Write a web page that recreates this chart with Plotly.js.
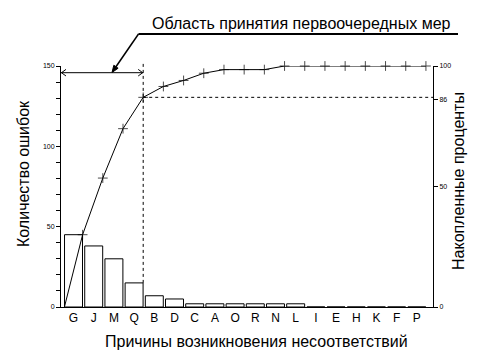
<!DOCTYPE html>
<html>
<head>
<meta charset="utf-8">
<script src="https://cdn.plot.ly/plotly-3.0.1.min.js"></script>
<style>html,body{margin:0;padding:0;background:#fff;}#chart{width:481px;height:362px;}</style>
</head>
<body>
<div id="chart"></div>
<script>
const categories = ['G','J','M','Q','B','D','C','A','O','R','N','L','I','E','H','K','F','P'];
const errorCounts = [45, 38, 30, 15, 7, 5, 2, 2, 2, 2, 2, 2, 0, 0, 0, 0, 0, 0];
const cumulativePct = [30, 53.5, 74, 87, 91.5, 94, 97, 98.5, 98.5, 98.5, 100, 100, 100, 100, 100, 100, 100, 100];
const leftTickLabels = ['0', '50', '100', '150'];
const rightTickValues = [0, 50, 86, 100];
const rightTickLabels = ['0', '50', '86', '100'];
const priorityCount = 4;
const titleText = 'Область принятия первоочередных мер';
const xTitle = 'Причины возникновения несоответствий';
const yTitle = 'Количество ошибок';
const y2Title = 'Накопленные проценты';

const W = 481, H = 362;
const M = {l: 61, r: 48, t: 66, b: 55};
const plotW = W - M.l - M.r, plotH = H - M.t - M.b;
const xRange = [-0.62, 17.8];
const yMax = 150, y2Max = 100;
const half = 0.45;

const px = x => (x - M.l) / plotW;
const py = y => (H - M.b - y) / plotH;
const dataToPx = x => M.l + (x - xRange[0]) / (xRange[1] - xRange[0]) * plotW;

const idx = categories.map((_, i) => i);
const lineX = [-half].concat(idx.map(i => i + half));
const lineY = [0].concat(cumulativePct);
const markerSizes = lineX.map((_, i) => i === 0 ? 0 : 7);

const qEdge = priorityCount - 1 + half;
const qEdgePx = dataToPx(qEdge);

const font = "Arial, 'Liberation Sans', sans-serif";

function pathP(points, close) {
  return points.map((p, i) => (i ? 'L ' : 'M ') + px(p[0]).toFixed(5) + ' ' + py(p[1]).toFixed(5)).join(' ') + (close ? ' Z' : '');
}

// leader arrow geometry
const tail = [138.5, 34], tip = [112, 72.5];
const dx = tip[0] - tail[0], dy = tip[1] - tail[1];
const len = Math.hypot(dx, dy);
const ux = dx / len, uy = dy / len;
const hl = 7, hw = 2.6;
const base = [tip[0] - ux * hl, tip[1] - uy * hl];
const headPts = [tip, [base[0] + uy * hw, base[1] - ux * hw], [base[0] - uy * hw, base[1] + ux * hw]];

const arrowY = 72.7;

const shapes = [
  {type: 'line', xref: 'paper', yref: 'paper', x0: px(tail[0]), y0: py(tail[1]), x1: px(458), y1: py(tail[1]), line: {color: 'black', width: 2}},
  {type: 'line', xref: 'paper', yref: 'paper', x0: px(tail[0]), y0: py(tail[1]), x1: px(base[0]), y1: py(base[1]), line: {color: 'black', width: 1.5}},
  {type: 'path', xref: 'paper', yref: 'paper', path: pathP(headPts, true), fillcolor: 'black', line: {color: 'black', width: 1}},
  {type: 'line', xref: 'paper', yref: 'paper', x0: 0, y0: py(arrowY), x1: px(qEdgePx), y1: py(arrowY), line: {color: 'black', width: 1}},
  {type: 'path', xref: 'paper', yref: 'paper', path: pathP([[M.l + 5, arrowY - 3.3], [M.l + 0.5, arrowY], [M.l + 5, arrowY + 3.3]], false), line: {color: 'black', width: 1}},
  {type: 'path', xref: 'paper', yref: 'paper', path: pathP([[qEdgePx - 5, arrowY - 3.3], [qEdgePx - 0.5, arrowY], [qEdgePx - 5, arrowY + 3.3]], false), line: {color: 'black', width: 1}},
  {type: 'line', xref: 'paper', yref: 'paper', x0: px(qEdgePx), x1: px(qEdgePx), y0: errorCounts[priorityCount - 1] / yMax, y1: py(63), line: {color: 'black', width: 1, dash: 'dot'}},
  {type: 'line', xref: 'paper', yref: 'paper', x0: px(qEdgePx), x1: 1, y0: cumulativePct[priorityCount - 1] / y2Max, y1: cumulativePct[priorityCount - 1] / y2Max, line: {color: 'black', width: 1, dash: 'dot'}}
];

const leftTickVals = [];
const leftTickText = [];
for (let v = 0; v <= yMax; v += 10) {
  leftTickVals.push(v);
  const k = leftTickLabels.indexOf(String(v));
  leftTickText.push(k >= 0 ? leftTickLabels[k] : '');
}

const annotations = [
  {xref: 'paper', yref: 'paper', x: px(301.5), y: py(24), text: titleText, showarrow: false, xanchor: 'center', yanchor: 'middle', font: {family: font, size: 16, color: 'black'}},
  {xref: 'paper', yref: 'paper', x: px(23.5), y: py(173.5), text: yTitle, textangle: -90, showarrow: false, xanchor: 'center', yanchor: 'middle', font: {family: font, size: 16, color: 'black'}},
  {xref: 'paper', yref: 'paper', x: px(458.5), y: py(181.5), text: y2Title, textangle: -90, showarrow: false, xanchor: 'center', yanchor: 'middle', font: {family: font, size: 16, color: 'black'}},
  {xref: 'paper', yref: 'paper', x: px(256.5), y: py(341), text: xTitle, showarrow: false, xanchor: 'center', yanchor: 'middle', font: {family: font, size: 16, color: 'black'}}
];

const traces = [
  {type: 'bar', x: idx, y: errorCounts, width: 0.89, marker: {color: 'white', line: {color: 'black', width: 1}}, hoverinfo: 'skip'},
  {type: 'scatter', mode: 'lines+markers', x: lineX, y: lineY, yaxis: 'y2', line: {color: 'black', width: 1},
   marker: {symbol: 'cross-thin', size: markerSizes, color: 'black', line: {color: 'black', width: 1}}, hoverinfo: 'skip', cliponaxis: false}
];

const layout = {
  width: W, height: H,
  margin: M,
  paper_bgcolor: 'white', plot_bgcolor: 'white',
  showlegend: false,
  font: {family: font, color: 'black'},
  xaxis: {range: xRange, tickmode: 'array', tickvals: idx, ticktext: categories, ticks: '', showline: true, linecolor: 'black', linewidth: 1,
          showgrid: false, zeroline: false, tickfont: {size: 12, color: 'black'}, fixedrange: true},
  yaxis: {range: [0, yMax], tickmode: 'array', tickvals: leftTickVals, ticktext: leftTickText, ticks: 'outside', ticklen: 4, tickwidth: 1, tickcolor: 'black',
          showline: true, linecolor: 'black', linewidth: 1, showgrid: false, zeroline: false, tickfont: {size: 7, color: 'black'}, fixedrange: true},
  yaxis2: {range: [0, y2Max], overlaying: 'y', side: 'right', tickmode: 'array', tickvals: rightTickValues, ticktext: rightTickLabels, ticks: 'outside', ticklen: 4,
           tickwidth: 1, tickcolor: 'black', showline: true, linecolor: 'black', linewidth: 1, showgrid: false, zeroline: false, tickfont: {size: 7, color: 'black'}, fixedrange: true},
  shapes: shapes,
  annotations: annotations
};

Plotly.newPlot('chart', traces, layout, {displayModeBar: false, staticPlot: true});
</script>
</body>
</html>
